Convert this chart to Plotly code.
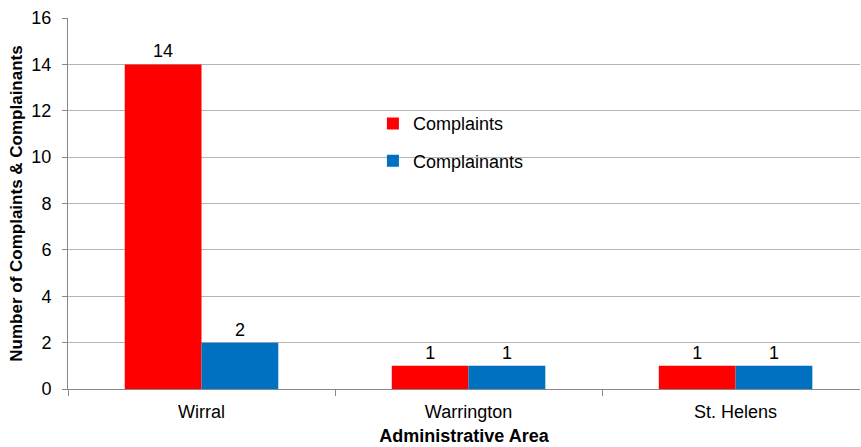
import plotly.graph_objects as go

categories = ["Wirral", "Warrington", "St. Helens"]
complaints = [14, 1, 1]
complainants = [2, 1, 1]
y_ticks = [0, 2, 4, 6, 8, 10, 12, 14, 16]

FONT = "Liberation Sans, Arial, sans-serif"

fig = go.Figure()
fig.add_trace(go.Bar(
    x=categories, y=complaints, name="Complaints",
    marker=dict(color="#FF0000", line=dict(width=0)),
    text=complaints, textposition="outside",
    textfont=dict(size=18, color="#000000", family=FONT),
    cliponaxis=False, legendgroup="a",
))
fig.add_trace(go.Bar(
    x=categories, y=complainants, name="Complainants",
    marker=dict(color="#0070C0", line=dict(width=0)),
    text=complainants, textposition="outside",
    textfont=dict(size=18, color="#000000", family=FONT),
    cliponaxis=False, legendgroup="b",
))

fig.update_layout(
    width=861, height=447,
    margin=dict(l=68, r=1, t=18, b=58),
    paper_bgcolor="white", plot_bgcolor="white",
    font=dict(family=FONT, size=18, color="#000000"),
    barmode="group", bargap=0.425, bargroupgap=0,
    legend=dict(
        x=0.385, y=0.765, xanchor="left", yanchor="top",
        bgcolor="rgba(0,0,0,0)", font=dict(size=18, family=FONT),
        traceorder="grouped", tracegroupgap=11,
    ),
    xaxis=dict(
        type="category", automargin=False,
        range=[-0.5, 2.466],
        showline=True, linecolor="#888888", linewidth=1,
        ticks="outside", tickson="boundaries", ticklen=6, tickcolor="#888888",
        tickfont=dict(size=18), ticklabelstandoff=6,
        title=dict(text="<b>Administrative Area</b>", font=dict(size=18), standoff=8),
        showgrid=False,
    ),
    yaxis=dict(
        range=[0, 16], tickvals=y_ticks, automargin=False,
        showline=True, linecolor="#888888", linewidth=1,
        ticks="outside", ticklen=5, tickcolor="#888888",
        showgrid=True, gridcolor="#B5B5B5", gridwidth=1,
        zeroline=False,
        tickfont=dict(size=18), ticklabelstandoff=7,
        title=dict(text="<b>Number of Complaints &amp; Complainants</b>", font=dict(size=17), standoff=4),
    ),
)

fig.write_html("out.html", config={"displayModeBar": False},
               post_script="document.body.style.margin='0';")
